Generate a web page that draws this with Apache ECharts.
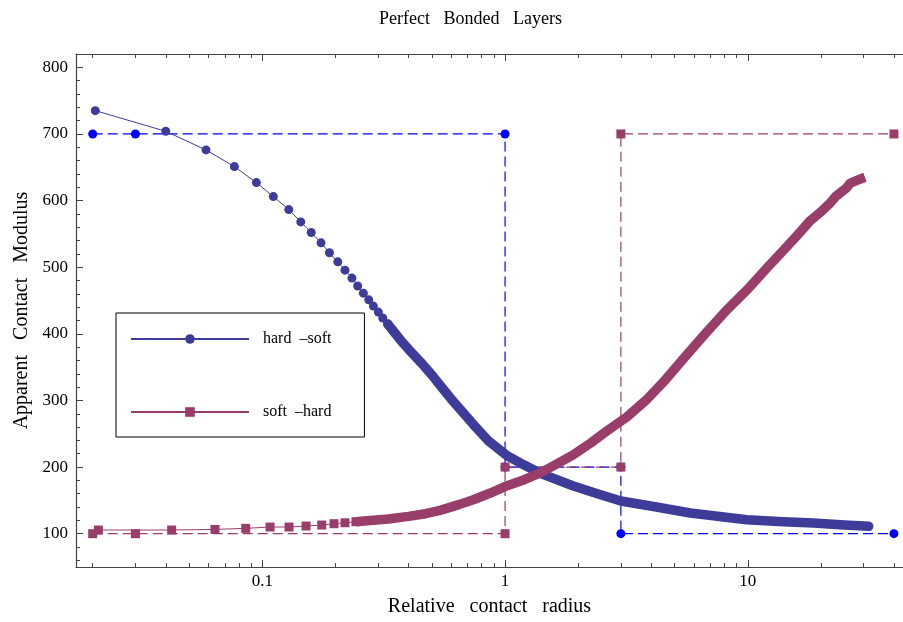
<!DOCTYPE html>
<html>
<head>
<meta charset="utf-8">
<script src="https://cdn.jsdelivr.net/npm/echarts@6/dist/echarts.min.js"></script>
<style>
  html, body { margin: 0; padding: 0; background: #fff; }
  #chart { width: 903px; height: 622px; }
</style>
</head>
<body>
<div id="chart"></div>
<script>
// values
const hardSoftX = [0.0205, 0.040, 0.0586, 0.0767, 0.0945, 0.111, 0.1285, 0.144, 0.159, 0.1745, 0.189,
  0.2045, 0.219, 0.234, 0.247, 0.2607, 0.2744, 0.2867, 0.3006, 0.3133, 0.3286, 0.3445]
const hardSoftY = [735, 704, 676, 651, 627, 606, 586.5, 568, 552, 536.6, 521.7,
  508, 495.6, 483.6, 471.7, 461, 451, 441.6, 432.6, 423.7, 414.7, 405]
// the dense part where markers merge into a thick band
const hardSoftBandX = [0.3286, 0.37, 0.4, 0.45, 0.5, 0.55, 0.6, 0.67, 0.74, 0.85, 1.02, 1.2, 1.39, 1.9,
  2.4, 3.0, 4.2, 5.8, 9.9, 14, 18.6, 25, 31.5]
const hardSoftBandY = [414.7, 391, 377, 357, 338, 319, 302, 282, 264, 240, 217, 203, 191, 172,
  160, 149, 140, 131, 121, 118, 116, 113, 111]

const softHardX = [0.0211, 0.0423, 0.0638, 0.0854, 0.1076, 0.1288, 0.1514, 0.1757, 0.1974, 0.219, 0.243]
const softHardY = [105.5, 105.5, 106.4, 108, 110, 110, 111.5, 113, 115, 116.4, 118]
const softHardBandX = [0.243, 0.27, 0.33, 0.4, 0.47, 0.54, 0.65, 0.74, 0.87, 1.02, 1.2, 1.39, 1.6, 1.9,
  2.25, 2.62, 3.17, 3.8, 4.5, 5.5, 6.67, 8.2, 10, 12, 14, 16, 18, 20, 21.8, 23, 24.5, 25.5, 26.4, 28, 30.4]
const softHardBandY = [118, 119.4, 122, 126, 130, 135, 144, 151, 161, 172, 181, 191, 203, 218,
  236, 254, 275, 300, 328, 365, 400, 436, 467, 499, 525, 548, 569, 583, 596, 606, 614, 619, 626, 630, 635]

const refBlueX = [0.02, 0.03, 1, 1, 3, 3, 40]
const refBlueY = [700, 700, 700, 200, 200, 100, 100]
const refPurpleX = [0.02, 0.03, 1, 1, 3, 3, 40]
const refPurpleY = [100, 100, 100, 200, 200, 700, 700]

const xMajorTicks = [0.1, 1, 10]
const yMajorTicks = [100, 200, 300, 400, 500, 600, 700, 800]

const X_MIN = 0.01707
const X_MAX = 43.6
const Y_MIN = 50
const Y_MAX = 820

const xMinorTicks = []
for (const dec of [0.01, 0.1, 1, 10]) {
  for (let k = 2; k <= 9; k++) {
    const v = +(k * dec).toPrecision(3)
    if (v > X_MIN && v < X_MAX) xMinorTicks.push(v)
  }
}
const yMinorTicks = []
for (let v = 60; v < Y_MAX; v += 20) {
  if (v % 100 !== 0) yMinorTicks.push(v)
}

const zip = (xs, ys) => xs.map((x, i) => [x, ys[i]])

const FONT = 'Liberation Serif'
const AXIS_COLOR = '#444'
const BLUE = '#3d3d99'
const PURPLE = '#993d6b'

const chart = echarts.init(document.getElementById('chart'))

const xAxisBase = (position, ticks, len, showLine, showLabel, extra) => Object.assign({
  type: 'log',
  position: position,
  min: X_MIN,
  max: X_MAX,
  axisLine: { show: showLine, lineStyle: { color: AXIS_COLOR, width: 1.2 } },
  axisTick: { show: true, inside: true, length: len, customValues: ticks, lineStyle: { color: AXIS_COLOR } },
  axisLabel: showLabel
    ? { show: true, customValues: ticks, margin: 6, color: '#000', fontFamily: FONT, fontSize: 17,
        formatter: (v) => String(+v.toPrecision(3)) }
    : { show: false },
  splitLine: { show: false },
  minorTick: { show: false }
}, extra || {})

const yAxisBase = (ticks, len, showLine, showLabel, extra) => Object.assign({
  type: 'value',
  position: 'left',
  min: Y_MIN,
  max: Y_MAX,
  axisLine: { show: showLine, lineStyle: { color: AXIS_COLOR, width: 1.2 } },
  axisTick: { show: true, inside: true, length: len, customValues: ticks, lineStyle: { color: AXIS_COLOR } },
  axisLabel: showLabel
    ? { show: true, customValues: ticks, margin: 8, color: '#000', fontFamily: FONT, fontSize: 17 }
    : { show: false },
  splitLine: { show: false }
}, extra || {})

const options = {
  animation: false,
  backgroundColor: '#fff',
  title: {
    text: 'Perfect   Bonded   Layers',
    left: 374,
    top: 5,
    textStyle: { fontFamily: FONT, fontSize: 18, fontWeight: 'normal', color: '#000' }
  },
  legend: {
    orient: 'vertical',
    left: 116,
    top: 313,
    data: ['hard  \u2013soft', 'soft  \u2013hard'],
    itemWidth: 118,
    itemHeight: 12,
    itemGap: 57,
    padding: [18, 33, 17, 14],
    borderColor: '#000',
    borderWidth: 1,
    backgroundColor: '#fff',
    textStyle: { fontFamily: FONT, fontSize: 16, color: '#000', padding: [0, 0, 0, 9] }
  },
  grid: { left: 76, right: 0, top: 54, bottom: 53, containLabel: false },
  xAxis: [
    xAxisBase('bottom', xMajorTicks, 7, true, true, {
      name: 'Relative   contact   radius',
      nameLocation: 'middle',
      nameGap: 30,
      nameTextStyle: { fontFamily: FONT, fontSize: 20, color: '#000' }
    }),
    xAxisBase('bottom', xMinorTicks, 4, false, false),
    xAxisBase('top', xMajorTicks, 7, true, false),
    xAxisBase('top', xMinorTicks, 4, false, false)
  ],
  yAxis: [
    yAxisBase(yMajorTicks, 7, true, true, {
      name: 'Apparent   Contact   Modulus',
      nameLocation: 'middle',
      nameGap: 44,
      nameTextStyle: { fontFamily: FONT, fontSize: 20, color: '#000' }
    }),
    yAxisBase(yMinorTicks, 4, false, false)
  ],
  series: [
    {
      name: 'ref blue',
      type: 'line',
      data: zip(refBlueX, refBlueY),
      symbol: 'circle',
      symbolSize: 9,
      itemStyle: { color: '#0000ff' },
      lineStyle: { color: '#0000ff', width: 1.2, type: [10, 5] }
    },
    {
      name: 'ref purple',
      type: 'line',
      data: zip(refPurpleX, refPurpleY),
      symbol: 'rect',
      symbolSize: 9,
      itemStyle: { color: PURPLE },
      lineStyle: { color: PURPLE, width: 1.2, type: [10, 5] }
    },
    {
      name: 'hard band',
      type: 'line',
      data: zip(hardSoftBandX, hardSoftBandY),
      showSymbol: false,
      lineStyle: { color: BLUE, width: 9.5, cap: 'round', join: 'round' }
    },
    {
      name: 'hard  \u2013soft',
      type: 'line',
      data: zip(hardSoftX, hardSoftY),
      symbol: 'circle',
      symbolSize: 9,
      itemStyle: { color: BLUE },
      lineStyle: { color: BLUE, width: 1 }
    },
    {
      name: 'soft band',
      type: 'line',
      data: zip(softHardBandX, softHardBandY),
      showSymbol: false,
      lineStyle: { color: PURPLE, width: 9.5, cap: 'butt', join: 'round' }
    },
    {
      name: 'soft  \u2013hard',
      type: 'line',
      data: zip(softHardX, softHardY),
      symbol: 'rect',
      symbolSize: 9,
      itemStyle: { color: PURPLE },
      lineStyle: { color: PURPLE, width: 1 }
    }
  ]
}

chart.setOption(options)
</script>
</body>
</html>
